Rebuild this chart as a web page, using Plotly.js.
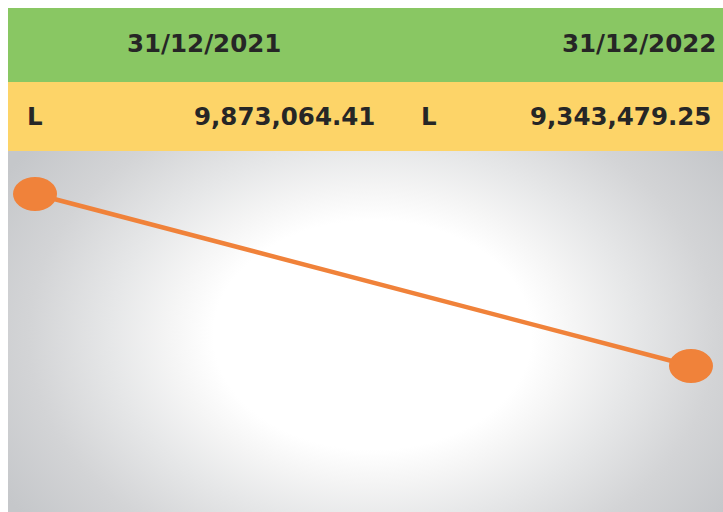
<!DOCTYPE html>
<html>
<head>
<meta charset="utf-8">
<script src="https://cdn.plot.ly/plotly-3.0.1.min.js"></script>
<style>
  html, body { margin: 0; padding: 0; background: #ffffff; overflow: hidden; }
  #wrap { position: relative; width: 723px; height: 512px; }
  #bg {
    position: absolute; left: 8px; top: 151px; width: 715px; height: 361px;
    background: radial-gradient(ellipse 430px 310px at 51% 51%,
      #ffffff 0%, #ffffff 37%, #f5f5f5 47%, #e6e7e8 61%, #d3d4d6 80%, #c5c7ca 100%);
  }
  #chart { position: absolute; left: 0; top: 0; width: 723px; height: 512px; }
</style>
</head>
<body>
<div id="wrap">
  <div id="bg"></div>
  <div id="chart"></div>
</div>
<script>
// ---- data ----
const dates = ['31/12/2021', '31/12/2022'];
const currency = ['L', 'L'];
const balances = [9873064.41, 9343479.25];

// ---- helpers ----
const fmt = v => v.toLocaleString('en-US', {minimumFractionDigits: 2, maximumFractionDigits: 2});

const FONT = 'DejaVu Sans, Arial, sans-serif';
const textColor = '#262626';
const orange = '#F0823A';

// column layout (paper x) for the header band and value band
const headerX = [0.2741, 0.8825];
const curX = [0.0238, 0.5748];
const valX = [0.5161, 0.986];
const headerY = 0.929;
const rowY = 0.784;

const annotations = [];
dates.forEach((d, i) => {
  annotations.push({
    xref: 'paper', yref: 'paper', x: headerX[i], y: headerY,
    xanchor: 'center', yanchor: 'middle', showarrow: false,
    text: '<b>' + d + '</b>',
    font: {family: FONT, size: 24.5, color: textColor}
  });
  annotations.push({
    xref: 'paper', yref: 'paper', x: curX[i], y: rowY,
    xanchor: 'left', yanchor: 'middle', showarrow: false,
    text: '<b>' + currency[i] + '</b>',
    font: {family: FONT, size: 24.5, color: textColor}
  });
  annotations.push({
    xref: 'paper', yref: 'paper', x: valX[i], y: rowY,
    xanchor: 'right', yanchor: 'middle', showarrow: false,
    text: '<b>' + fmt(balances[i]) + '</b>',
    font: {family: FONT, size: 24.5, color: textColor}
  });
});

const trace = {
  type: 'scatter',
  mode: 'lines',
  x: dates,
  y: balances,
  line: {color: orange, width: 4.5},
  hoverinfo: 'skip',
  cliponaxis: false
};

// elliptical point markers anchored on the data values
const pointShapes = dates.map((d, i) => ({
  type: 'circle', xref: 'x', yref: 'y',
  xsizemode: 'pixel', ysizemode: 'pixel',
  xanchor: i, yanchor: balances[i],
  x0: -22, x1: 22, y0: -17, y1: 17,
  fillcolor: orange, line: {width: 0}, layer: 'above'
}));

const layout = {
  width: 723, height: 512,
  margin: {l: 8, r: 0, t: 8, b: 0, pad: 0},
  paper_bgcolor: 'rgba(0,0,0,0)',
  plot_bgcolor: 'rgba(0,0,0,0)',
  showlegend: false,
  xaxis: {
    type: 'category', range: [-0.0412, 1.0488],
    visible: false, fixedrange: true
  },
  yaxis: {
    domain: [0, 0.7163], range: [8893945, 10005461],
    visible: false, fixedrange: true
  },
  shapes: [
    {type: 'rect', xref: 'paper', yref: 'paper', x0: 0, x1: 1.02, y0: 0.8532, y1: 1,
     fillcolor: '#89C763', line: {width: 0}, layer: 'below'},
    {type: 'rect', xref: 'paper', yref: 'paper', x0: 0, x1: 1.02, y0: 0.7163, y1: 0.8532,
     fillcolor: '#FDD468', line: {width: 0}, layer: 'below'}
  ].concat(pointShapes),
  annotations: annotations
};

Plotly.newPlot('chart', [trace], layout, {displayModeBar: false, staticPlot: true});
</script>
</body>
</html>
